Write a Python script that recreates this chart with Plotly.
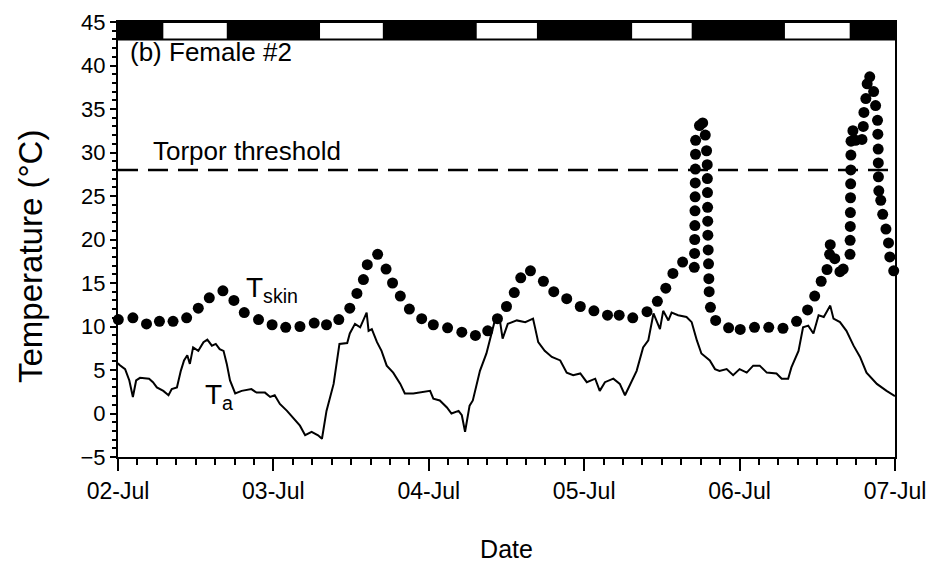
import plotly.graph_objects as go
import pandas as pd

BASE = pd.Timestamp("2015-07-02 00:00")

# Air temperature (Ta): hours since 02-Jul 00:00, temperature (°C)
ta_hours = [0.0, 0.2, 1.1, 1.75, 2.3, 2.8, 3.4, 4.8, 5.4, 6.0, 7.0, 7.8, 8.3, 9.1, 9.7, 10.2, 10.7, 11.1, 11.6,
            12.4, 13.2, 13.8, 14.5, 15.1, 15.7, 16.3, 16.8, 17.3, 18.1, 19.1, 20.6, 21.4, 22.7, 23.5, 24.2, 25.0,
            26.1, 27.1, 28.1, 28.9, 29.9, 30.9, 31.5, 32.2, 33.3, 34.2, 35.4, 35.8, 36.6, 37.4, 37.9, 38.4, 38.7,
            39.2, 40.0, 40.7, 41.5, 42.5, 43.6, 44.3, 45.6, 46.9, 48.2, 48.7, 49.7, 50.8, 51.5, 52.6, 53.1, 53.6,
            54.3, 54.8, 55.9, 56.9, 57.7, 58.2, 59.0, 59.4, 60.2, 61.6, 62.9, 64.1, 64.4, 64.9, 65.9, 67.0, 68.3,
            69.3, 70.3, 71.4, 72.4, 73.7, 74.4, 75.2, 76.5, 77.5, 78.3, 79.1, 80.1, 81.1, 81.9, 82.7, 83.7, 84.2,
            85.0, 85.5, 86.5, 87.8, 88.6, 89.4, 90.1, 91.4, 92.2, 92.9, 94.0, 95.0, 96.0, 97.1, 98.1, 99.1, 100.2,
            101.7, 102.5, 103.5, 104.0, 105.1, 105.8, 106.6, 107.4, 108.2, 109.0, 110.0, 110.5, 111.5, 112.5,
            113.6, 114.6, 115.6, 117.2, 118.7, 119.7, 120.0]
ta_values = [5.8, 5.6, 5.1, 3.8, 1.9, 3.8, 4.1, 4.0, 3.6, 3.0, 2.6, 2.1, 2.8, 3.0, 4.9, 6.1, 6.7, 5.7, 7.6,
             7.2, 8.2, 8.5, 7.8, 8.0, 7.4, 7.2, 5.7, 3.8, 2.3, 2.6, 2.8, 2.4, 2.4, 1.9, 2.1, 1.1,
             0.3, -0.6, -1.4, -2.5, -2.1, -2.5, -2.9, 0.3, 3.4, 8.0, 8.1, 9.2, 10.3, 9.9, 10.7, 11.6, 9.5,
             9.7, 8.2, 7.2, 5.5, 4.7, 3.4, 2.3, 2.3, 2.45, 2.6, 1.7, 1.5, 0.7, 0.0, 0.3, -0.2, -2.1,
             0.9, 1.5, 4.9, 6.9, 9.2, 10.7, 10.6, 8.6, 10.3, 10.7, 10.5, 10.9, 9.9, 8.2, 7.2, 6.5, 6.1,
             4.7, 4.4, 4.6, 3.6, 4.0, 2.6, 3.6, 4.0, 3.4, 2.1, 3.4, 4.9, 7.6, 8.4, 11.5, 9.7, 11.8,
             10.7, 11.6, 11.3, 11.1, 10.5, 8.4, 6.9, 6.1, 5.1, 4.9, 5.1, 4.4, 5.1, 4.7, 5.5, 5.5, 4.7,
             4.6, 4.0, 4.0, 5.3, 7.2, 9.9, 10.1, 9.2, 11.3, 11.1, 12.4, 10.9, 10.5, 9.5,
             7.8, 6.5, 4.7, 3.4, 2.6, 2.1, 2.0]

# Skin temperature (Tskin)
tskin_hours = [0.05, 2.3, 4.4, 6.4, 8.5, 10.6, 12.4, 14.1, 16.2, 17.9, 19.5, 21.7, 23.8, 25.9, 28.1, 30.3, 32.2,
               34.1, 35.8, 36.9, 37.9, 38.5, 40.1, 41.4, 42.4, 43.6, 45.0, 46.9, 48.7, 50.9, 53.1, 55.2, 57.1,
               58.6, 60.0, 61.2, 62.2, 63.7, 65.7, 67.3, 69.3, 71.4, 73.5, 75.6, 77.4, 79.5, 81.7, 83.3, 84.6,
               85.7, 87.2, 89.0,
               89.05, 89.07, 89.09, 89.11, 89.13, 89.15, 89.17, 89.19, 89.21,
               89.8, 90.3, 90.7, 90.9,
               91.0, 91.02, 91.04, 91.06, 91.08, 91.1, 91.15, 91.2, 91.25, 91.3,
               91.5, 92.3, 94.3, 96.1, 98.3, 100.5, 102.7, 104.8, 106.5, 107.6, 108.6, 109.5, 109.9, 110.0,
               110.7, 111.5, 112.0,
               113.05, 113.07, 113.09, 113.11, 113.13, 113.15, 113.17, 113.19, 113.21,
               113.5, 113.9, 114.9, 115.1, 115.2, 115.5, 115.7, 116.1, 116.7, 117.0, 117.3, 117.35, 117.4,
               117.42, 117.44, 117.5, 117.8, 118.1, 118.6, 119.0, 119.2, 119.8]
tskin_values = [10.8, 11.0, 10.3, 10.6, 10.6, 11.0, 12.1, 13.3, 14.1, 13.0, 11.6, 10.8, 10.2, 9.9, 10.0, 10.4, 10.2,
                10.8, 12.1, 13.8, 15.4, 17.1, 18.3, 16.6, 15.0, 13.5, 12.0, 10.9, 10.2, 9.85, 9.35, 8.97, 9.5,
                10.9, 12.3, 13.9, 15.6, 16.4, 15.2, 14.0, 13.2, 12.3, 11.8, 11.3, 11.3, 11.0, 11.7, 12.9, 14.4,
                16.1, 17.4, 16.8,
                18.4, 20.0, 21.6, 23.3, 24.9, 26.5, 28.1, 29.8, 31.4,
                33.1, 33.4, 32.0, 30.2,
                28.6, 27.0, 25.4, 23.7, 22.1, 20.5, 18.8, 17.2, 15.5, 14.0,
                12.2, 10.7, 9.85, 9.66, 9.9, 9.9, 9.8, 10.6, 11.9, 13.5, 15.2, 16.55, 18.3, 19.4,
                17.8, 16.3, 16.6,
                18.3, 19.9, 21.5, 23.1, 24.8, 26.4, 28.0, 29.7, 31.3,
                32.5, 31.4, 31.5, 33.0, 34.6, 36.2, 37.9, 38.7, 37.0, 35.4, 33.7, 32.1, 30.4,
                28.8, 27.2, 25.6, 24.5, 22.9, 21.2, 19.6, 18.0, 16.4]

# Night (black) periods of the light bar, hours since 02-Jul 00:00
night_start = [0.0, 16.8, 40.9, 64.7, 88.6, 113.0]
night_end = [7.0, 31.2, 55.4, 79.4, 103.0, 120.0]

torpor_threshold = 28
date_ticks = ["2015-07-02", "2015-07-03", "2015-07-04", "2015-07-05", "2015-07-06", "2015-07-07"]


def to_dates(hours):
    return [BASE + pd.Timedelta(hours=h) for h in hours]


FONT = "Liberation Sans, Arial, sans-serif"

fig = go.Figure()
fig.add_trace(go.Scatter(x=to_dates(ta_hours), y=ta_values, mode="lines",
                         line=dict(color="black", width=2), showlegend=False, name="Ta"))
fig.add_trace(go.Scatter(x=to_dates(tskin_hours), y=tskin_values, mode="markers",
                         marker=dict(color="black", size=11), showlegend=False, name="Tskin",
                         cliponaxis=False))

# torpor threshold
fig.add_trace(go.Scatter(x=[BASE, BASE + pd.Timedelta(hours=120)], y=[torpor_threshold, torpor_threshold],
                         mode="lines", line=dict(color="black", width=2.5, dash="20px,10px"),
                         showlegend=False, name="threshold"))

# light/dark bar
for s, e in zip(night_start, night_end):
    fig.add_shape(type="rect", xref="x", yref="y", x0=BASE + pd.Timedelta(hours=s),
                  x1=BASE + pd.Timedelta(hours=e), y0=43, y1=45,
                  fillcolor="black", line=dict(width=0), layer="above")
fig.add_shape(type="rect", xref="x", yref="y", x0=BASE, x1=BASE + pd.Timedelta(hours=120), y0=43, y1=45,
              fillcolor="rgba(0,0,0,0)", line=dict(color="black", width=2), layer="above")

fig.add_annotation(x=BASE + pd.Timedelta(hours=1.6), y=41.5, text="(b) Female #2", showarrow=False,
                   xanchor="left", font=dict(size=26, family=FONT, color="black"))
fig.add_annotation(x=BASE + pd.Timedelta(hours=5.1), y=30.2, text="Torpor threshold", showarrow=False,
                   xanchor="left", font=dict(size=26, family=FONT, color="black"))
fig.add_annotation(x=BASE + pd.Timedelta(hours=19.5), y=14.3, text="T<sub>skin</sub>", showarrow=False,
                   xanchor="left", font=dict(size=28, family=FONT, color="black"))
fig.add_annotation(x=BASE + pd.Timedelta(hours=13.2), y=1.9, text="T<sub>a</sub>", showarrow=False,
                   xanchor="left", font=dict(size=28, family=FONT, color="black"))
# y-axis title
fig.add_annotation(xref="paper", yref="paper", x=-0.1133, y=0.462, text="Temperature (°C)",
                   textangle=-90, showarrow=False, xanchor="center", yanchor="middle",
                   font=dict(size=33, family=FONT, color="black"))

fig.update_xaxes(
    type="date", range=[BASE, BASE + pd.Timedelta(hours=120)], automargin=False,
    tickvals=date_ticks, tickformat="%d-%b", ticklabeloverflow="allow",
    ticks="outside", ticklen=12, tickwidth=2, tickcolor="black",
    minor=dict(dtick=3 * 3600 * 1000, ticks="outside", ticklen=6, tickwidth=2, tickcolor="black"),
    showline=True, linecolor="black", linewidth=2, mirror=True,
    showgrid=False, zeroline=False,
    tickfont=dict(size=23, family=FONT, color="black"),
    title=dict(text="Date", font=dict(size=25, family=FONT, color="black"), standoff=38),
)
fig.update_yaxes(
    range=[-5, 45], dtick=5, tick0=0, automargin=False, ticklabeloverflow="allow",
    ticks="outside", ticklen=6, tickwidth=2, tickcolor="black",
    minor=dict(dtick=1, ticks="outside", ticklen=4, tickwidth=1.5, tickcolor="black"),
    showline=True, linecolor="black", linewidth=2, mirror=True,
    showgrid=False, zeroline=False,
    tickfont=dict(size=22, family=FONT, color="black"),
)
fig.update_layout(
    width=926, height=565,
    margin=dict(l=118, r=31, t=22, b=108),
    plot_bgcolor="white", paper_bgcolor="white",
    font=dict(family=FONT, color="black"),
)

fig.write_html("out.html")
